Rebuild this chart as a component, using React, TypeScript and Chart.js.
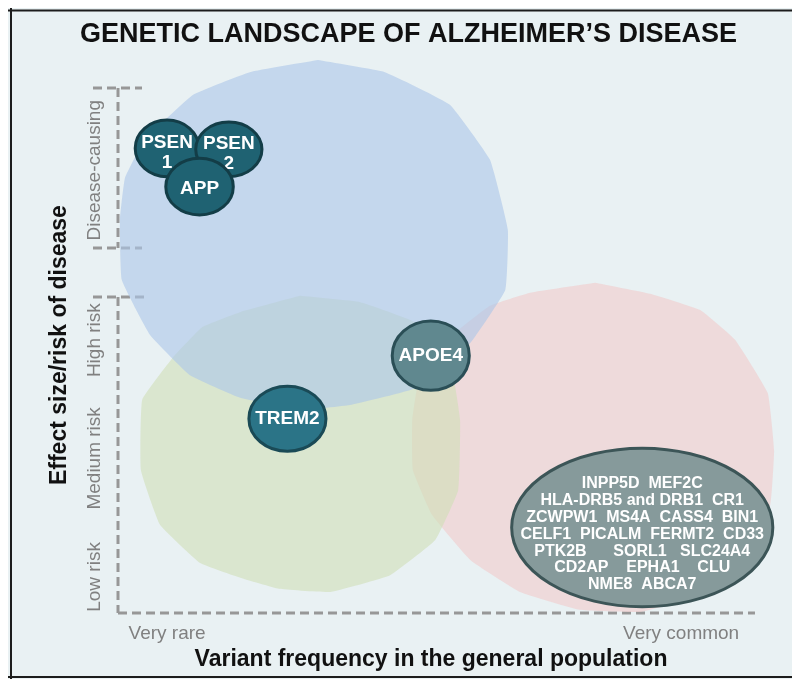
import React, { useEffect, useRef } from "react";
import { Chart, registerables } from "chart.js";

Chart.register(...registerables);

const FONT = "'Liberation Sans', Arial, Helvetica, sans-serif";
Chart.defaults.font.family = FONT;

// ---------- texts ----------
const chartTitle = "GENETIC LANDSCAPE OF ALZHEIMER\u2019S DISEASE";
const xAxisTitle = "Variant frequency in the general population";
const yAxisTitle = "Effect size/risk of disease";

// ---------- axes (x = variant frequency, y = effect size; 0-100 scale) ----------
const xTickValues = [7.7, 88.4];
const xTickLabels = ["Very rare", "Very common"];
const yTickValues = [13.5, 39.2, 59.0, 97.7];
const yTickLabels = ["Low risk", "Medium risk", "High risk", "Disease-causing"];
const riskBracket = [0, 60.2];
const causingBracket = [69.5, 100];
const xAxisExtent = [0, 100];

// ---------- variant-class regions [frequency, effect] ----------
const blueRegion = [
  [31.4, 105.3], [41.9, 103.0], [52.1, 96.8], [58.4, 86.3], [61.2, 73.0], [60.8, 61.5],
  [55.3, 51.4], [46.9, 42.9], [36.4, 39.6], [28.6, 38.7], [19.2, 41.0], [11.3, 45.3],
  [5.0, 53.0], [0.6, 63.4], [0.3, 74.9], [1.1, 82.9], [4.2, 90.1], [11.8, 98.7], [20.7, 103.0],
];
const greenRegion = [
  [28.6, 60.4], [38.0, 59.2], [46.6, 55.4], [52.1, 48.2], [53.7, 36.8], [53.4, 23.4],
  [49.8, 13.9], [42.7, 7.2], [33.3, 4.0], [25.3, 4.6], [19.2, 6.7], [12.9, 9.5],
  [6.6, 16.8], [3.6, 27.2], [3.8, 40.6], [8.6, 48.6], [13.3, 54.5], [19.2, 57.3],
];
const redRegion = [
  [74.9, 62.9], [83.5, 60.8], [91.4, 57.7], [96.9, 52.0], [102.0, 41.9], [103.0, 31.0],
  [102.4, 20.6], [98.4, 10.1], [91.4, 3.4], [81.9, 0.2], [72.5, 0.6], [63.1, 4.0],
  [55.3, 10.1], [49.3, 18.7], [46.3, 27.2], [46.2, 36.8], [47.4, 45.3], [52.9, 53.3],
  [58.4, 58.5], [64.7, 61.0],
];

// ---------- genes ----------
const geneNames = ["PSEN1", "PSEN2", "APP", "TREM2", "APOE4", "Common risk genes"];
const geneLabelLines = [
  ["PSEN", "1"],
  ["PSEN", "2"],
  ["APP"],
  ["TREM2"],
  ["APOE4"],
  [
    "INPP5D  MEF2C",
    "HLA-DRB5 and DRB1  CR1",
    "ZCWPW1  MS4A  CASS4  BIN1",
    "CELF1  PICALM  FERMT2  CD33",
    "PTK2B      SORL1   SLC24A4",
    "CD2AP    EPHA1    CLU",
    "NME8  ABCA7",
  ],
];
const geneFrequency = [7.7, 17.4, 12.8, 26.6, 49.1, 82.3];
const geneEffect = [88.5, 88.3, 81.2, 37.0, 49.0, 16.3];
const geneSpreadX = [5.0, 5.2, 5.3, 6.05, 6.05, 20.5];
const geneSpreadY = [5.4, 5.2, 5.4, 6.2, 6.6, 15.1];

// ---------- styles ----------
const geneFill = ["#1f6272", "#1f6272", "#1f6272", "#2b7487", "#60888f", "#869a9b"];
const geneStroke = ["#133d47", "#133d47", "#133d47", "#1a4a56", "#2a4e56", "#3c5557"];
const geneFontSize = [19, 19, 19, 19, 19, 16];
const geneLineHeight = [20, 20, 20, 20, 20, 16.8];
const geneTextShift = [4, 4, 2, 0, 0, 7];

const regionStyle = [
  { data: blueRegion, color: "rgba(172,199,233,0.62)" },
  { data: greenRegion, color: "rgba(208,222,184,0.62)" },
  { data: redRegion, color: "rgba(240,204,204,0.62)" },
];

const NB = "\u00a0";

const framePlugin = {
  id: "frame",
  beforeDraw(chart: any) {
    const { ctx, width, height } = chart;
    ctx.save();
    ctx.fillStyle = "#e9f1f3";
    ctx.fillRect(0, 0, width, height);
    ctx.strokeStyle = "#1c1c1c";
    ctx.lineWidth = 2;
    ctx.beginPath();
    ctx.moveTo(0, 2.5);
    ctx.lineTo(width, 2.5);
    ctx.moveTo(3, 0);
    ctx.lineTo(3, height);
    ctx.moveTo(0, height - 2);
    ctx.lineTo(width, height - 2);
    ctx.stroke();
    ctx.restore();
  },
};

const dashedAxesPlugin = {
  id: "dashedAxes",
  beforeDatasetsDraw(chart: any) {
    const { ctx } = chart;
    const x = chart.scales.x;
    const y = chart.scales.y;
    const ax = x.getPixelForValue(xAxisExtent[0]);
    ctx.save();
    ctx.strokeStyle = "#979797";
    ctx.lineWidth = 3;
    ctx.setLineDash([9, 5]);
    const seg = (x1: number, y1: number, x2: number, y2: number) => {
      ctx.beginPath();
      ctx.moveTo(x1, y1);
      ctx.lineTo(x2, y2);
      ctx.stroke();
    };
    const cTop = y.getPixelForValue(causingBracket[1]);
    const cBot = y.getPixelForValue(causingBracket[0]);
    seg(ax - 25, cTop, ax + 24, cTop);
    seg(ax, cTop, ax, cBot);
    seg(ax - 25, cBot, ax + 24, cBot);
    const rTop = y.getPixelForValue(riskBracket[1]);
    const rBot = y.getPixelForValue(riskBracket[0]);
    seg(ax - 25, rTop, ax + 27, rTop);
    seg(ax, rTop, ax, rBot);
    seg(ax, rBot, x.getPixelForValue(xAxisExtent[1]), rBot);
    ctx.restore();
  },
};

const ellipsePlugin = {
  id: "geneEllipses",
  afterDatasetsDraw(chart: any) {
    const { ctx } = chart;
    const x = chart.scales.x;
    const y = chart.scales.y;
    chart.data.datasets.forEach((ds: any, di: number) => {
      if (!ds.isGenes) return;
      const meta = chart.getDatasetMeta(di);
      meta.data.forEach((pt: any, j: number) => {
        const d = ds.data[j];
        const cx = pt.x;
        const cy = pt.y;
        const rx = Math.abs(x.getPixelForValue(d.x + geneSpreadX[j]) - cx);
        const ry = Math.abs(y.getPixelForValue(d.y + geneSpreadY[j]) - cy);
        ctx.save();
        ctx.beginPath();
        ctx.ellipse(cx, cy, rx, ry, 0, 0, Math.PI * 2);
        ctx.fillStyle = geneFill[j];
        ctx.fill();
        ctx.lineWidth = 3;
        ctx.strokeStyle = geneStroke[j];
        ctx.stroke();
        ctx.fillStyle = "#ffffff";
        ctx.font = `bold ${geneFontSize[j]}px ${FONT}`;
        ctx.textAlign = "center";
        ctx.textBaseline = "middle";
        const lines = geneLabelLines[j];
        const lh = geneLineHeight[j];
        const start = cy + geneTextShift[j] - ((lines.length - 1) * lh) / 2;
        lines.forEach((t, k) => ctx.fillText(t, cx, start + k * lh));
        ctx.restore();
      });
    });
  },
};

export default function App() {
  const ref = useRef<HTMLCanvasElement | null>(null);

  useEffect(() => {
    if (!ref.current) return;
    const datasets: any[] = [
      {
        label: "Genes",
        isGenes: true,
        data: geneNames.map((_, i) => ({ x: geneFrequency[i], y: geneEffect[i] })),
        pointRadius: 0,
        pointHoverRadius: 0,
        showLine: false,
      },
      ...regionStyle.map((r, i) => ({
        label: "region" + i,
        data: [...r.data, r.data[0]].map(([x, y]) => ({ x, y })),
        showLine: true,
        fill: "shape",
        backgroundColor: r.color,
        borderColor: "rgba(0,0,0,0)",
        borderWidth: 0,
        pointRadius: 0,
        pointHoverRadius: 0,
        tension: 0.1,
      })),
    ];

    const chart = new Chart(ref.current, {
      type: "scatter",
      data: { datasets },
      options: {
        responsive: false,
        animation: false,
        layout: { padding: { left: 33, right: 16, top: 0, bottom: 0 } },
        plugins: {
          legend: { display: false },
          tooltip: { enabled: false },
          title: {
            display: true,
            text: chartTitle,
            color: "#111111",
            font: { size: 27, weight: "bold", family: FONT },
            padding: { top: 10.8, bottom: 6.8 },
          },
        },
        scales: {
          x: {
            type: "linear",
            min: 0,
            max: 103.3,
            grid: { display: false, drawTicks: false },
            border: { display: false },
            afterBuildTicks: (s: any) => {
              s.ticks = xTickValues.map((v) => ({ value: v }));
            },
            afterFit: (s: any) => {
              s.height = 66;
            },
            ticks: {
              autoSkip: false,
              minRotation: 0,
              maxRotation: 0,
              padding: 9.6,
              color: "#808080",
              font: { size: 19, family: FONT },
              callback: (_v: any, i: number) => xTickLabels[i],
            },
            title: {
              display: true,
              text: xAxisTitle + NB.repeat(5),
              color: "#111111",
              font: { size: 23, weight: "bold", family: FONT },
              padding: { top: 0, bottom: 5.2 },
            },
          },
          y: {
            type: "linear",
            min: 0,
            max: 105.7,
            grid: { display: false, drawTicks: false },
            border: { display: false },
            afterBuildTicks: (s: any) => {
              s.ticks = yTickValues.map((v) => ({ value: v }));
            },
            afterFit: (s: any) => {
              s.width = 77;
            },
            ticks: {
              autoSkip: false,
              minRotation: 90,
              maxRotation: 90,
              crossAlign: "near",
              padding: 23,
              color: "#808080",
              font: { size: 19, family: FONT },
              callback: (_v: any, i: number) => yTickLabels[i],
            },
            title: {
              display: true,
              text: yAxisTitle + NB.repeat(3),
              color: "#111111",
              font: { size: 23, weight: "bold", family: FONT },
              padding: { top: 5.2, bottom: 0 },
            },
          },
        },
      } as any,
      plugins: [framePlugin, dashedAxesPlugin, ellipsePlugin],
    });
    return () => chart.destroy();
  }, []);

  return (
    <div style={{ position: "fixed", left: 8, top: 8, width: 784, height: 671 }}>
      <canvas ref={ref} width={784} height={671} style={{ width: 784, height: 671, display: "block" }} />
    </div>
  );
}
